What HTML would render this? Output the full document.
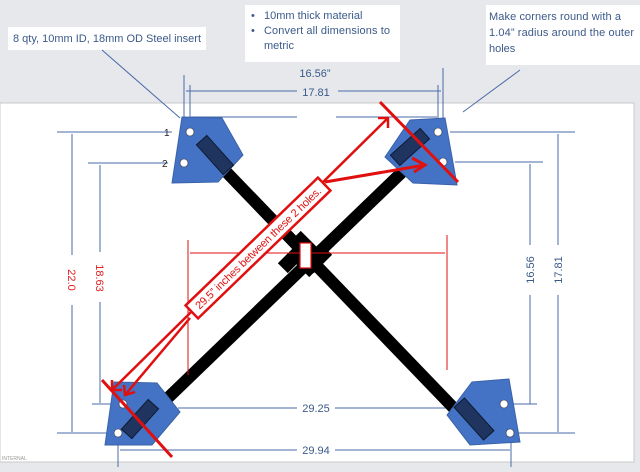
<!DOCTYPE html>
<html><head><meta charset="utf-8"><style>
body{margin:0;width:640px;height:467px;overflow:hidden;background:#e6e8ec;font-family:"Liberation Sans",sans-serif;}
</style></head><body>
<svg width="640" height="467" viewBox="0 0 640 467" xmlns="http://www.w3.org/2000/svg" font-family="Liberation Sans, sans-serif">
<rect x="0" y="0" width="640" height="467" fill="#e6e8ec"/>
<rect x="0" y="103" width="634" height="359" fill="#fff" stroke="#c8c8c8"/>
<rect x="8" y="27" width="198" height="23" fill="#fff"/>
<text x="13" y="42" font-size="11" fill="#3b5a8a" textLength="188">8 qty, 10mm ID, 18mm OD Steel insert</text>
<rect x="245" y="5" width="155" height="57" fill="#fff"/>
<text x="251" y="19" font-size="11" fill="#3b5a8a">•</text><text x="264" y="19" font-size="11" fill="#3b5a8a">10mm thick material</text>
<text x="251" y="34" font-size="11" fill="#3b5a8a">•</text><text x="264" y="34" font-size="11" fill="#3b5a8a" textLength="126">Convert all dimensions to</text>
<text x="264" y="49" font-size="11" fill="#3b5a8a">metric</text>
<rect x="486" y="5" width="154" height="60" fill="#fff"/>
<text x="489" y="20" font-size="11" fill="#3b5a8a" textLength="132">Make corners round with a</text>
<text x="489" y="36" font-size="11" fill="#3b5a8a" textLength="145">1.04” radius around the outer</text>
<text x="489" y="52" font-size="11" fill="#3b5a8a">holes</text>
<g stroke="#4a6aa8" stroke-width="1" fill="none">
<line x1="102" y1="50" x2="180" y2="118"/>
<line x1="520" y1="70" x2="463" y2="112"/>
<line x1="184" y1="75" x2="184" y2="118"/><line x1="443" y1="68" x2="443" y2="118"/>
<line x1="190" y1="85" x2="190" y2="118"/><line x1="438" y1="85" x2="438" y2="118"/>
<line x1="186" y1="91" x2="297" y2="91"/><line x1="338" y1="91" x2="441" y2="91"/>
<line x1="191" y1="117" x2="297" y2="117"/><line x1="336" y1="117" x2="437" y2="117"/>
<line x1="57" y1="132" x2="172" y2="132"/><line x1="88" y1="163" x2="168" y2="163"/>
<line x1="72" y1="134" x2="72" y2="255"/><line x1="72" y1="305" x2="72" y2="432"/>
<line x1="100" y1="165" x2="100" y2="252"/><line x1="100" y1="302" x2="100" y2="403"/>
<line x1="57" y1="433" x2="110" y2="433"/><line x1="92" y1="404" x2="112" y2="404"/>
<line x1="450" y1="132" x2="575" y2="132"/><line x1="455" y1="162" x2="543" y2="162"/>
<line x1="558" y1="134" x2="558" y2="245"/><line x1="558" y1="295" x2="558" y2="432"/>
<line x1="530" y1="164" x2="530" y2="245"/><line x1="530" y1="295" x2="530" y2="404"/>
<line x1="512" y1="404" x2="537" y2="404"/><line x1="518" y1="433" x2="575" y2="433"/>
<line x1="178" y1="408" x2="297" y2="408"/><line x1="335" y1="408" x2="450" y2="408"/>
<line x1="120" y1="450" x2="297" y2="450"/><line x1="335" y1="450" x2="510" y2="450"/>
<line x1="118" y1="435" x2="118" y2="467"/><line x1="511" y1="435" x2="511" y2="467"/>
</g>
<text x="315" y="77" font-size="11" fill="#3b5a8a" text-anchor="middle">16.56”</text>
<text x="316" y="96" font-size="11" fill="#3b5a8a" text-anchor="middle">17.81</text>
<text x="316" y="412" font-size="11" fill="#3b5a8a" text-anchor="middle">29.25</text>
<text x="316" y="454" font-size="11" fill="#3b5a8a" text-anchor="middle">29.94</text>
<text x="164" y="136" font-size="10" fill="#222">1</text>
<text x="162" y="167" font-size="10" fill="#222">2</text>
<text transform="translate(68,280) rotate(90)" font-size="11" fill="#e02020" text-anchor="middle">22.0</text>
<text transform="translate(96,278) rotate(90)" font-size="11" fill="#e02020" text-anchor="middle">18.63</text>
<text transform="translate(534,270) rotate(-90)" font-size="11" fill="#3b5a8a" text-anchor="middle">16.56</text>
<text transform="translate(562,270) rotate(-90)" font-size="11" fill="#3b5a8a" text-anchor="middle">17.81</text>
<text x="2" y="460" font-size="5" fill="#999">INTERNAL</text>
<line x1="210" y1="155" x2="470" y2="425" stroke="#000" stroke-width="12"/>
<line x1="425" y1="150" x2="145" y2="420" stroke="#000" stroke-width="12"/>
<g fill="#000">
<rect x="292" y="238" width="26" height="14" transform="rotate(45 305 245)"/>
<rect x="292" y="256" width="26" height="14" transform="rotate(45 305 263)"/>
<rect x="285" y="246" width="14" height="26" transform="rotate(45 292 259)"/>
<rect x="311" y="246" width="14" height="26" transform="rotate(45 318 259)"/>
</g>
<g fill="#4472c4" stroke="#3a62a8">
<polygon points="182,117 222,118 243,155 218,182 172,183"/>
<polygon points="385,157 410,120 445,118 457,185 413,183"/>
<polygon points="114,382 157,383 180,412 152,445 105,445"/>
<polygon points="447,415 472,382 509,379 520,442 470,445"/>
</g>
<g fill="#1f3560" stroke="#0e1a30">
<rect x="195" y="148" width="40" height="14" transform="rotate(48 215 155)"/>
<rect x="390" y="140" width="40" height="14" transform="rotate(-42 410 147)"/>
<rect x="120" y="412" width="40" height="14" transform="rotate(-48 140 419)"/>
<rect x="452" y="412" width="44" height="14" transform="rotate(48 474 419)"/>
</g>
<g fill="#fff" stroke="#333" stroke-width=".6">
<circle cx="190" cy="132" r="4"/><circle cx="184" cy="163" r="4"/>
<circle cx="438" cy="132" r="4"/><circle cx="443" cy="162" r="4"/>
<circle cx="123" cy="404" r="4"/><circle cx="118" cy="433" r="4"/>
<circle cx="504" cy="404" r="4"/><circle cx="510" cy="433" r="4"/>
</g>
<g stroke="#e01010" fill="none">
<line x1="188" y1="240" x2="188" y2="375" stroke-width="1"/>
<line x1="447" y1="235" x2="447" y2="370" stroke-width="1"/>
<line x1="190" y1="253" x2="445" y2="253" stroke-width="1"/>
<line x1="380" y1="102" x2="458" y2="182" stroke-width="3"/>
<line x1="102" y1="380" x2="172" y2="457" stroke-width="3"/>
<line x1="388" y1="118" x2="112" y2="390" stroke-width="2.5"/>
<line x1="325" y1="182" x2="425" y2="165" stroke-width="3"/>
<line x1="190" y1="318" x2="125" y2="395" stroke-width="2.5"/>
<polyline points="378,118 388,118 388,128" stroke-width="2.5"/>
<polyline points="112,380 112,390 122,390" stroke-width="2.5"/>
<polyline points="412,158 425,165 414,172" stroke-width="3"/>
<polyline points="124,385 125,395 135,392" stroke-width="2.5"/>
</g>
<rect x="300" y="243" width="11" height="25" fill="#fff" stroke="#e01010" stroke-width="1.2"/>
<g transform="translate(258,248) rotate(-44)">
<rect x="-92" y="-9" width="184" height="18" fill="#fff" stroke="#e01010" stroke-width="2.5"/>
<text x="0" y="4" font-size="11" fill="#e01010" text-anchor="middle" textLength="170">29.5” inches between these 2 holes.</text>
</g>
</svg>
</body></html>
